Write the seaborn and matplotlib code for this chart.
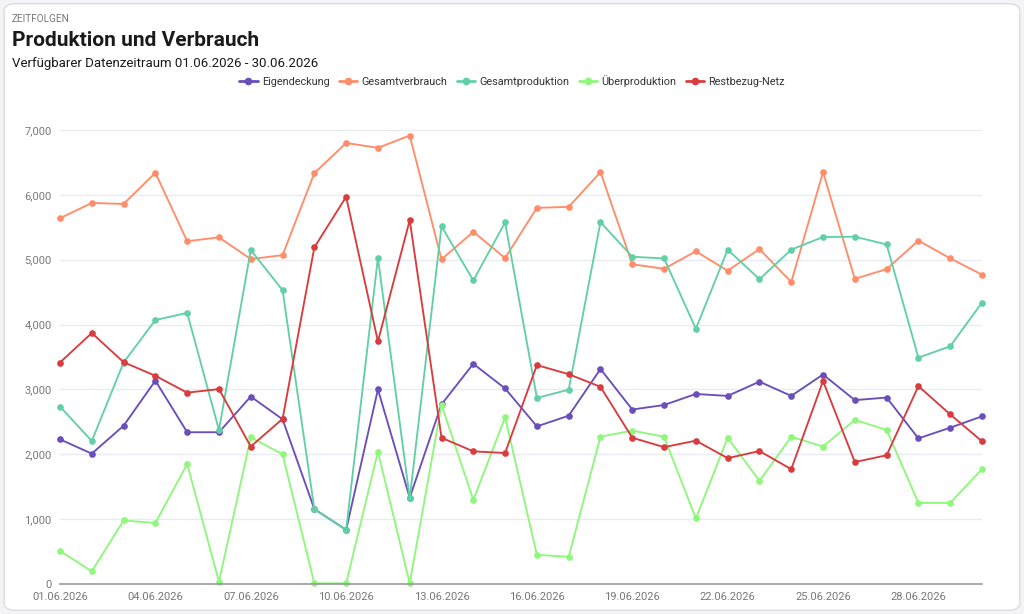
import matplotlib.pyplot as plt
import numpy as np
import pandas as pd
import seaborn as sns
from matplotlib.lines import Line2D
from matplotlib.patches import FancyBboxPatch

# ------------------------------------------------------------------------------ #
# Data
# ------------------------------------------------------------------------------ #
days = [f"{d:02d}.06.2026" for d in range(1, 31)]

eigendeckung = [2230, 2010, 2440, 3135, 2340, 2340, 2890, 2540, 1155, 835,
                3000, 1330, 2770, 3395, 3015, 2430, 2595, 3315, 2690, 2760,
                2930, 2900, 3120, 2900, 3230, 2835, 2875, 2245, 2410, 2585]
gesamtverbrauch = [5640, 5875, 5860, 6340, 5285, 5345, 5010, 5070, 6335, 6800,
                   6725, 6915, 5005, 5430, 5025, 5800, 5815, 6350, 4930, 4860,
                   5130, 4830, 5165, 4655, 6350, 4705, 4855, 5295, 5020, 4770]
gesamtproduktion = [2735, 2205, 3415, 4070, 4180, 2375, 5150, 4530, 1155, 835,
                    5030, 1320, 5515, 4680, 5575, 2870, 2995, 5580, 5045, 5020,
                    3935, 5155, 4700, 5155, 5350, 5355, 5235, 3490, 3665, 4340]
ueberproduktion = [510, 195, 980, 940, 1850, 35, 2260, 2000, 10, 10,
                   2040, 10, 2765, 1295, 2570, 450, 420, 2270, 2365, 2270,
                   1010, 2255, 1590, 2270, 2120, 2530, 2375, 1250, 1250, 1770]
restbezug = [3415, 3870, 3420, 3210, 2950, 3005, 2120, 2545, 5190, 5970,
             3740, 5610, 2255, 2045, 2020, 3375, 3235, 3040, 2255, 2110,
             2210, 1940, 2050, 1770, 3130, 1880, 1985, 3050, 2615, 2200]

series_names = ["Eigendeckung", "Gesamtverbrauch", "Gesamtproduktion",
                "Überproduktion", "Restbezug-Netz"]
series_values = [eigendeckung, gesamtverbrauch, gesamtproduktion,
                 ueberproduktion, restbezug]
colors = ["#6a4fbb", "#ff8d69", "#62d0a7", "#8ef77c", "#d83c3e"]

y_ticks = [0, 1000, 2000, 3000, 4000, 5000, 6000, 7000]

if __name__ == "__main__":
    rows = []
    for name, vals in zip(series_names, series_values):
        for i, v in enumerate(vals):
            rows.append({"day": i, "series": name, "value": v})
    df = pd.DataFrame(rows)

    sns.set_theme(style="white")
    plt.rcParams["font.family"] = ["Roboto", "DejaVu Sans"]

    fig = plt.figure(figsize=(10.24, 6.14), dpi=100)
    fig.patch.set_facecolor("#f4f4f6")

    # card background
    card = FancyBboxPatch((0.004, 0.006), 0.992, 0.988,
                          boxstyle="round,pad=0,rounding_size=0.012",
                          transform=fig.transFigure, facecolor="white",
                          edgecolor="#dcdce0", linewidth=1.0, zorder=-10)
    fig.patches.append(card)

    ax = fig.add_axes([60 / 1024, 30 / 614, 922 / 1024, 454 / 614], zorder=2)
    ax.set_facecolor("none")

    sns.lineplot(
        data=df, x="day", y="value", hue="series", hue_order=series_names,
        palette=colors, marker="o", markersize=4.8, markeredgewidth=0,
        linewidth=1.35, ax=ax, legend=False, clip_on=False,
    )

    ax.set_xlim(0, 29)
    ax.set_ylim(0, 7000)
    ax.set_yticks(y_ticks)
    ax.set_yticklabels([f"{t:,}" for t in y_ticks])
    ax.set_xticks(range(0, 30, 3))
    ax.set_xticklabels(days[::3])
    ax.set_xlabel("")
    ax.set_ylabel("")

    ax.grid(axis="y", color="#e8ebf2", linewidth=1.0)
    ax.set_axisbelow(True)
    for s in ["top", "right", "left"]:
        ax.spines[s].set_visible(False)
    ax.spines["bottom"].set_color("#9a9a9a")
    ax.spines["bottom"].set_linewidth(1.2)
    ax.tick_params(axis="x", colors="#9a9a9a", length=5, width=1,
                   labelcolor="#777777", labelsize=8, pad=1)
    ax.tick_params(axis="y", length=0, labelcolor="#777777", labelsize=8, pad=6)

    # header texts
    fig.text(12 / 1024, 1 - 19 / 614, "ZEITFOLGEN",
             fontsize=7.2, color="#777777", va="center", ha="left")
    fig.text(12 / 1024, 1 - 41 / 614, "Produktion und Verbrauch", fontsize=15,
             fontweight="bold", color="#1a1a1a", va="center", ha="left")
    fig.text(12 / 1024, 1 - 63 / 614,
             "Verfügbarer Datenzeitraum 01.06.2026 - 30.06.2026",
             fontsize=9.5, color="#1a1a1a", va="center", ha="left")

    handles = [Line2D([0], [0], color=c, marker="o", markersize=5.5,
                      markeredgewidth=0, linewidth=2) for c in colors]
    fig.legend(handles, series_names, loc="center", ncol=5,
               bbox_to_anchor=(512 / 1024, 1 - 81 / 614), frameon=False,
               fontsize=7.8, handlelength=1.7, handletextpad=0.4,
               columnspacing=0.85, labelcolor="#333333")

    fig.savefig("out.png", dpi=100)
